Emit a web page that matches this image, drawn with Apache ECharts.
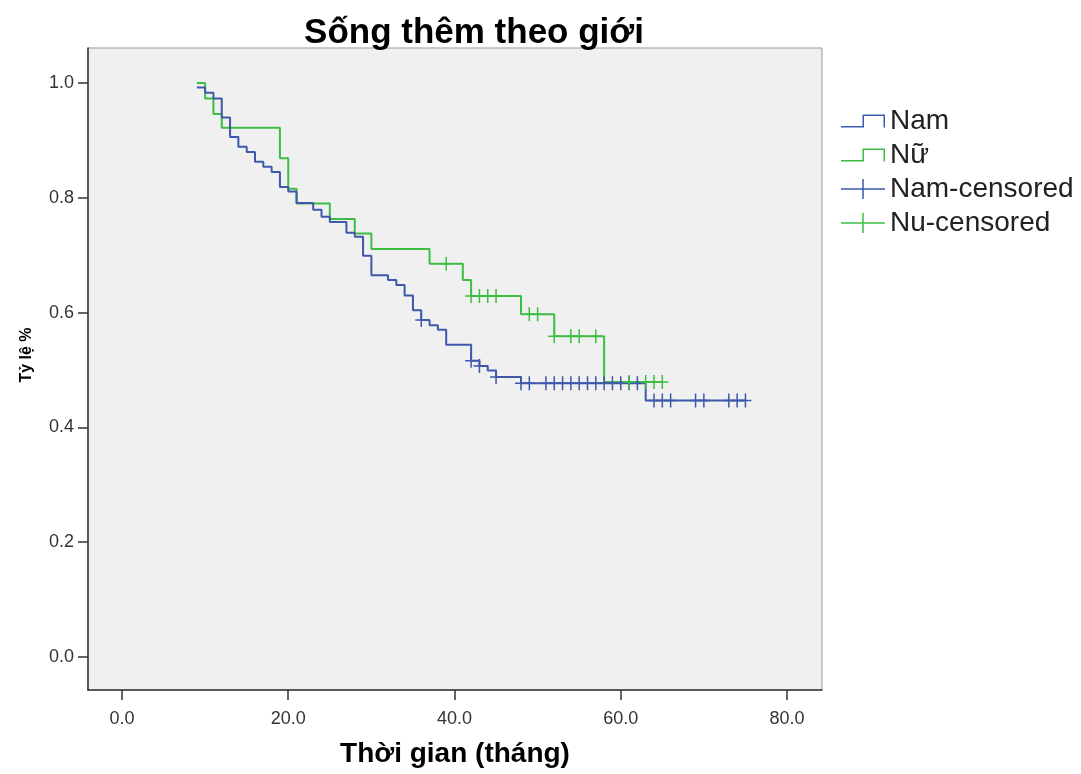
<!DOCTYPE html>
<html>
<head>
<meta charset="utf-8">
<script src="https://cdn.jsdelivr.net/npm/echarts@6/dist/echarts.min.js"></script>
<style>
  html, body { margin: 0; padding: 0; background: #fff; }
  #chart { width: 1081px; height: 774px; }
</style>
</head>
<body>
<div id="chart"></div>
<script>
// survival steps: [time (months), survival after event]
const namSteps = [
  [9, 0.992], [10, 0.983], [11, 0.973], [12, 0.940], [13, 0.906], [14, 0.889],
  [15, 0.880], [16, 0.863], [17, 0.854], [18, 0.845], [19, 0.819], [20, 0.811],
  [21, 0.791], [23, 0.779], [24, 0.767], [25, 0.758], [27, 0.739], [28, 0.732],
  [29, 0.699], [30, 0.665], [32, 0.657], [33, 0.648], [34, 0.630], [35, 0.604],
  [36, 0.587], [37, 0.578], [38, 0.570], [39, 0.544], [42, 0.516], [43, 0.507],
  [44, 0.499], [45, 0.488], [48, 0.477], [63, 0.447], [75, 0.447]
];
const nuSteps = [
  [9, 1.0], [10, 0.973], [11, 0.946], [12, 0.922], [19, 0.869], [20, 0.816],
  [21, 0.790], [25, 0.763], [28, 0.738], [30, 0.711], [37, 0.685], [41, 0.657],
  [42, 0.629], [48, 0.597], [52, 0.559], [58, 0.479], [65, 0.479]
];
// censored cases
const namCensored = [
  [36, 0.587], [42, 0.516], [43, 0.507], [45, 0.488],
  [48, 0.477], [49, 0.477], [51, 0.477], [52, 0.477], [53, 0.477], [54, 0.477],
  [55, 0.477], [56, 0.477], [57, 0.477], [58, 0.477], [59, 0.477], [60, 0.477],
  [61, 0.477], [62, 0.477],
  [64, 0.447], [65, 0.447], [66, 0.447], [69, 0.447], [70, 0.447],
  [73, 0.447], [74, 0.447], [75, 0.447]
];
const nuCensored = [
  [39, 0.685], [42, 0.629], [43, 0.629], [44, 0.629], [45, 0.629],
  [49, 0.597], [50, 0.597], [52, 0.559], [54, 0.559], [55, 0.559], [57, 0.559],
  [61, 0.479], [63, 0.479], [64, 0.479], [65, 0.479]
];
const xTicks = [0, 20, 40, 60, 80];
const yTicks = [0, 0.2, 0.4, 0.6, 0.8, 1.0];

const blue = "#3e58ac";
const green = "#3ebd45";

// icons
const stepIcon = "path://M0,11.5h21.5v-11.5h22.5v13h-1.5v-11.5h-19.5v11.5h-23z";
const crossIcon = "path://M0,9.25h21.25v-9.25h1.5v9.25h21.25v1.5h-21.25v9.25h-1.5v-9.25h-21.25z";
const censorMark = "path://M5.25,0h1.5v6.25h5.25v1.5h-5.25v6.25h-1.5v-6.25h-5.25v-1.5h5.25z";

const chart = echarts.init(document.getElementById("chart"));

const option = {
  backgroundColor: "#ffffff",
  animation: false,
  title: {
    text: "Sống thêm theo giới",
    left: 469,
    top: 11,
    textAlign: "center",
    textStyle: {
      fontFamily: "Liberation Sans",
      fontSize: 35,
      fontWeight: "bold",
      color: "#000",
    },
  },
  legend: {
    orient: "vertical",
    left: 836,
    top: 102,
    itemWidth: 44,
    itemHeight: 20,
    itemGap: 6,
    symbolKeepAspect: true,
    textStyle: {
      fontFamily: "Liberation Sans",
      fontSize: 28,
      color: "#222",
    },
    data: [
      { name: "Nam", icon: stepIcon, itemStyle: { color: blue } },
      { name: "Nữ", icon: stepIcon, itemStyle: { color: green } },
      { name: "Nam-censored", icon: crossIcon, itemStyle: { color: blue } },
      { name: "Nu-censored", icon: crossIcon, itemStyle: { color: green } },
    ],
  },
  grid: {
    left: 88,
    right: 259,
    top: 48,
    bottom: 84,
    outerBoundsMode: "none",
    containLabel: false,
    show: true,
    backgroundColor: "#f0f0f0",
    borderColor: "#999999",
    borderWidth: 1,
  },
  xAxis: {
    type: "value",
    min: -4.09,
    max: 84.21,
    name: "Thời gian (tháng)",
    nameLocation: "middle",
    nameGap: 50,
    nameTextStyle: {
      fontFamily: "Liberation Sans",
      fontSize: 28,
      fontWeight: "bold",
      color: "#000",
    },
    axisLine: { onZero: false, lineStyle: { color: "#333", width: 1.5 } },
    axisTick: {
      length: 10,
      customValues: xTicks,
      lineStyle: { color: "#333", width: 1.5 },
    },
    axisLabel: {
      customValues: xTicks,
      margin: 20,
      fontFamily: "Liberation Sans",
      fontSize: 18,
      color: "#333",
      formatter: (v) => v.toFixed(1),
    },
    splitLine: { show: false },
  },
  yAxis: {
    type: "value",
    min: -0.0575,
    max: 1.061,
    name: "Tỷ lệ %",
    nameLocation: "middle",
    nameGap: 53,
    nameTextStyle: {
      fontFamily: "Liberation Sans",
      fontSize: 16,
      fontWeight: "bold",
      color: "#000",
      padding: [0, 0, 0, 28],
    },
    axisLine: { onZero: false, lineStyle: { color: "#333", width: 1.5 } },
    axisTick: {
      length: 10,
      customValues: yTicks,
      lineStyle: { color: "#333", width: 1.5 },
    },
    axisLabel: {
      customValues: yTicks,
      margin: 14,
      fontFamily: "Liberation Sans",
      fontSize: 18,
      color: "#333",
      formatter: (v) => v.toFixed(1),
    },
    splitLine: { show: false },
  },
  series: [
    {
      name: "Nam",
      type: "line",
      step: "end",
      data: namSteps,
      symbol: "none",
      itemStyle: { color: blue },
      lineStyle: { color: blue, width: 2 },
      z: 3,
    },
    {
      name: "Nữ",
      type: "line",
      step: "end",
      data: nuSteps,
      symbol: "none",
      itemStyle: { color: green },
      lineStyle: { color: green, width: 2 },
      z: 2,
    },
    {
      name: "Nam-censored",
      type: "scatter",
      data: namCensored,
      symbol: censorMark,
      symbolSize: [12, 14],
      itemStyle: { color: blue, opacity: 1 },
      z: 4,
    },
    {
      name: "Nu-censored",
      type: "scatter",
      data: nuCensored,
      symbol: censorMark,
      symbolSize: [12, 14],
      itemStyle: { color: green, opacity: 1 },
      z: 4,
    },
  ],
};

chart.setOption(option);
</script>
</body>
</html>
